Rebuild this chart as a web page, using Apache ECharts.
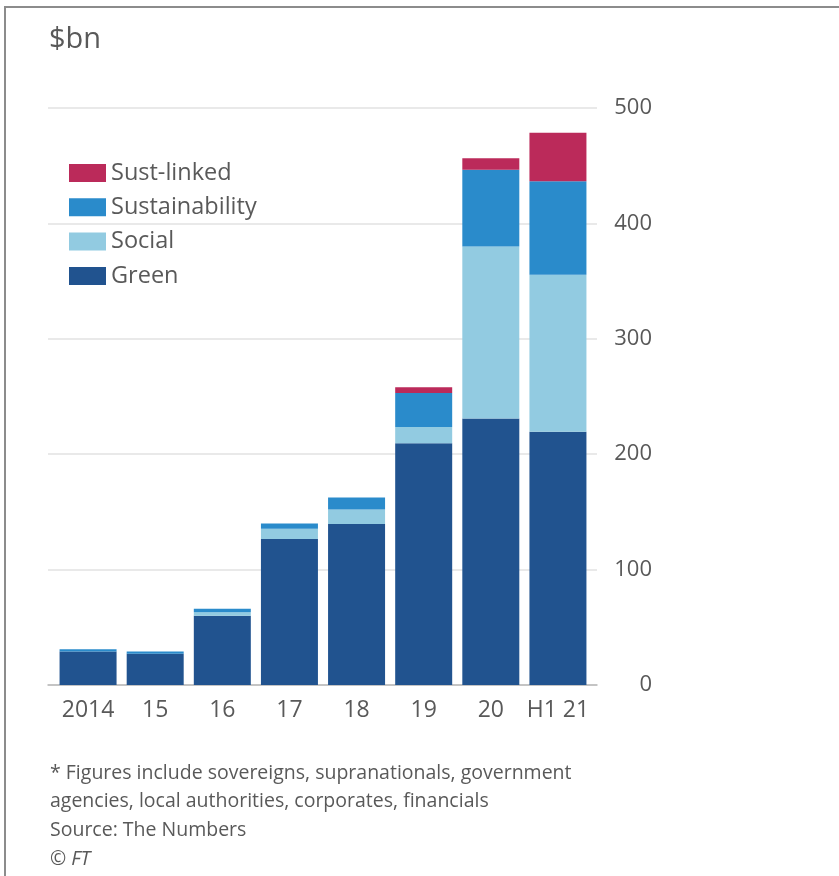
<!DOCTYPE html>
<html>
<head>
<meta charset="utf-8">
<script src="https://cdn.jsdelivr.net/npm/echarts@6/dist/echarts.min.js"></script>
<style>
  html, body { margin: 0; padding: 0; background: #fff; }
  #chart { width: 839px; height: 876px; }
  .frame {
    position: absolute; left: 4px; top: 6px; right: 0; bottom: 0;
    border-left: 2px solid #8c8c8c; border-top: 2px solid #8c8c8c;
    pointer-events: none;
  }
</style>
</head>
<body>
<div id="chart"></div>
<div class="frame"></div>
<script>
// $bn
const categories = ['2014', '15', '16', '17', '18', '19', '20', 'H1 21'];
const green = [29, 27, 60, 126.5, 139.5, 209.5, 231, 219.5];
const social = [0, 0, 3, 9, 12.5, 14, 149, 136];
const sustainability = [2, 2, 3, 4.5, 10.5, 29.5, 66.5, 81];
const sustLinked = [0, 0, 0, 0, 0, 5, 10, 42];
const yTicks = [0, 100, 200, 300, 400, 500];

const FONT = '"Open Sans", sans-serif';
const TEXT = '#595959';
const COLORS = { green: '#21538f', social: '#92cbe1', sust: '#2a8bcb', linked: '#bb2a5a' };

const chart = echarts.init(document.getElementById('chart'));

const footnotes = [
  '* Figures include sovereigns, supranationals, government',
  'agencies, local authorities, corporates, financials',
  'Source: The Numbers'
];

const bar = (name, data, color) => ({
  name,
  type: 'bar',
  stack: 'total',
  xAxisIndex: 0,
  yAxisIndex: 0,
  data,
  barWidth: 57,
  itemStyle: { color },
  emphasis: { disabled: true }
});

chart.setOption({
  animation: false,
  textStyle: { fontFamily: FONT },
  title: {
    text: '$bn',
    left: 44,
    top: 20,
    textStyle: { color: TEXT, fontSize: 29, fontWeight: 'normal', fontFamily: FONT }
  },
  legend: {
    orient: 'vertical',
    left: 64,
    top: 156,
    itemWidth: 37,
    itemHeight: 18,
    itemGap: 10.3,
    icon: 'rect',
    data: ['Sust-linked', 'Sustainability', 'Social', 'Green'],
    textStyle: { color: TEXT, fontSize: 23.5, fontFamily: FONT }
  },
  grid: [
    { left: 54.5, right: 247.5, top: 108, bottom: 191 },
    { left: 48, right: 242, top: 108, bottom: 191 }
  ],
  xAxis: [
    {
      type: 'category',
      gridIndex: 0,
      data: categories,
      axisLine: { show: false },
      axisTick: { show: false },
      axisLabel: { color: TEXT, fontSize: 23, margin: 14, interval: 0, fontFamily: FONT }
    },
    {
      type: 'value',
      gridIndex: 1,
      min: 0,
      max: 1,
      axisLine: { show: true, lineStyle: { color: '#b8b8b8', width: 1.5 } },
      axisTick: { show: false },
      axisLabel: { show: false },
      splitLine: { show: false }
    }
  ],
  yAxis: [
    {
      type: 'value',
      gridIndex: 0,
      min: yTicks[0],
      max: yTicks[yTicks.length - 1],
      interval: 100,
      show: false
    },
    {
      type: 'value',
      gridIndex: 1,
      position: 'right',
      min: yTicks[0],
      max: yTicks[yTicks.length - 1],
      interval: 100,
      axisLine: { show: false },
      axisTick: { show: false },
      axisLabel: { color: TEXT, fontSize: 22, align: 'right', margin: 55, fontFamily: FONT },
      splitLine: { show: true, lineStyle: { color: '#e2e2e2', width: 1.5 } }
    }
  ],
  series: [
    bar('Green', green, COLORS.green),
    bar('Social', social, COLORS.social),
    bar('Sustainability', sustainability, COLORS.sust),
    bar('Sust-linked', sustLinked, COLORS.linked)
  ],
  graphic: footnotes.map((line, i) => ({
    type: 'text',
    left: 50,
    top: 763 + i * 28.7,
    style: { text: line, fill: TEXT, font: '19.5px ' + FONT }
  })).concat([{
    type: 'text',
    left: 50,
    top: 763 + 3 * 28.7,
    style: { text: '\u00a9 FT', fill: TEXT, font: 'italic 19.5px ' + FONT }
  }])
});
</script>
</body>
</html>
